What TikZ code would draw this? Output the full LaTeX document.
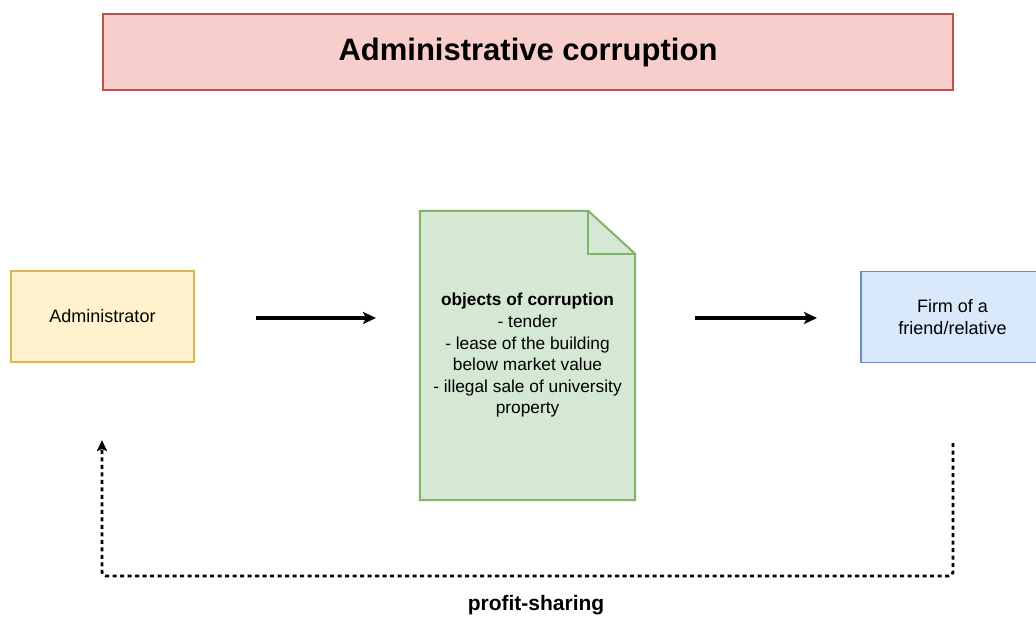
\documentclass[tikz,border=0pt]{standalone}
\usepackage{fontspec}
\setmainfont{Liberation Sans}
\usetikzlibrary{arrows.meta,calc}
\definecolor{redfill}{HTML}{F8CECC}
\definecolor{redline}{HTML}{B85450}
\definecolor{yelfill}{HTML}{FFF2CC}
\definecolor{yelline}{HTML}{D6B656}
\definecolor{bluefill}{HTML}{DAE8FC}
\definecolor{blueline}{HTML}{6C8EBF}
\definecolor{grnfill}{HTML}{D5E8D4}
\definecolor{grnline}{HTML}{82B366}
\tikzset{
  box/.style={draw, line width=1.8pt, minimum width=183pt, minimum height=91pt, inner sep=0pt, align=center, font=\fontsize{18}{22}\selectfont},
  flow/.style={line width=3.4pt, -{Stealth[length=13pt,width=12pt,inset=3pt]}},
  share/.style={line width=2.8pt, dash pattern=on 4pt off 3.5pt, rounded corners=4pt, -{Stealth[length=11pt,width=10pt,inset=2pt]}}
}
\begin{document}
\begin{tikzpicture}[x=1pt,y=-1pt]
\useasboundingbox (0,0) rectangle (1036,618);
\fill[white] (0,0) rectangle (1036,618);
% title
\node[draw=redline, fill=redfill, line width=1.8pt, minimum width=850pt, minimum height=76pt, inner sep=0pt,
  font=\fontsize{31}{36}\selectfont\bfseries] (title) at (528,52) {Administrative corruption};
% administrator
\node[box, draw=yelline, fill=yelfill] (admin) at (102.5,316.5) {Administrator};
% firm
\node[box, draw=blueline, fill=bluefill] (firm) at (952.5,317) {Firm of a\\friend/relative};
% document
\node[minimum width=215pt, minimum height=289pt, inner sep=0pt] (doc) at (527.5,355.5) {};
\draw[draw=grnline, fill=grnfill, line width=2pt]
  (doc.north west) -- ($(doc.north east)+(-47,0)$) -- ($(doc.north east)+(0,43)$) -- (doc.south east) -- (doc.south west) -- cycle;
\draw[draw=grnline, line width=2pt]
  ($(doc.north east)+(-47,0)$) -- ($(doc.north east)+(-47,43)$) -- ($(doc.north east)+(0,43)$);
\node[align=center, font=\fontsize{17.3}{21.6}\selectfont] (doctext) at (doc.center)
  {\textbf{objects of corruption}\\- tender\\- lease of the building\\below market value\\- illegal sale of university\\property};
% flow arrows
\coordinate (a1s) at (256,318);
\coordinate (a1e) at (376,318);
\coordinate (a2s) at (695,318);
\coordinate (a2e) at (817,318);
\draw[flow] (a1s) -- (a1e);
\draw[flow] (a2s) -- (a2e);
% profit sharing loop
\coordinate (ps) at (953,443);
\coordinate (pc1) at (953,576);
\coordinate (pc2) at (102,576);
\coordinate (pe) at (102,440);
\draw[share] (ps) -- (pc1) -- (pc2) -- (pe);
\node[font=\fontsize{21}{24}\selectfont\bfseries] (pslabel) at (536,605) {profit-sharing};
\end{tikzpicture}
\end{document}
